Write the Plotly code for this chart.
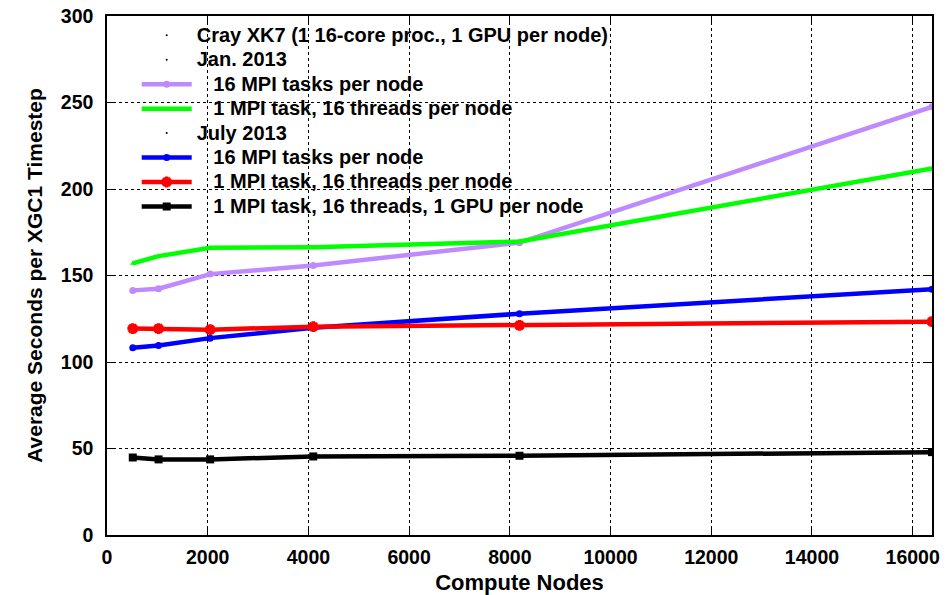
import plotly.graph_objects as go

nodes = [512, 1024, 2048, 4096, 8192, 16384]
jan_16mpi = [141.4, 142.4, 150.8, 155.8, 169.0, 247.5]
jan_1mpi_16thr = [157.0, 161.2, 166.0, 166.4, 169.6, 211.9]
jul_16mpi = [108.3, 109.6, 113.8, 119.8, 127.9, 142.1]
jul_1mpi_16thr = [119.3, 119.3, 118.7, 120.4, 121.2, 123.3]
jul_gpu = [44.8, 43.7, 43.7, 45.4, 45.8, 47.9]

x_ticks = [0, 2000, 4000, 6000, 8000, 10000, 12000, 14000, 16000]
x_ticktext = [str(v) for v in x_ticks]
y_ticks = [0, 50, 100, 150, 200, 250, 300]

FONT = "Liberation Sans, Arial, sans-serif"
NB = "\u00a0\u00a0\u00a0"

def lab(t):
    return '<span style="font-size:20px">' + t + '</span>'

fig = go.Figure()

def header(name):
    fig.add_trace(go.Scatter(x=[None], y=[None], mode="markers",
                             marker=dict(size=2, color="black"),
                             name=lab(name), hoverinfo="skip"))

def series(name, y, color, symbol, msize, lw=4.5, mline=None):
    marker = dict(symbol=symbol, size=msize, color=color)
    if mline:
        marker["line"] = dict(color=color, width=mline)
    fig.add_trace(go.Scatter(x=nodes, y=y, mode="lines+markers", name=lab(NB + name),
                             line=dict(color=color, width=lw), marker=marker))

header("Cray XK7 (1 16-core proc., 1 GPU per node)")
header("Jan. 2013")
series("16 MPI tasks per node", jan_16mpi, "#c08aff", "circle", 7)
series("1 MPI task, 16 threads per node", jan_1mpi_16thr, "#00ff00", "triangle-up", 5)
header("July 2013")
series("16 MPI tasks per node", jul_16mpi, "#0000ff", "circle", 7)
series("1 MPI task, 16 threads per node", jul_1mpi_16thr, "#ff0000", "asterisk", 9, mline=3.5)
series("1 MPI task, 16 threads, 1 GPU per node", jul_gpu, "#000000", "square", 8)

axis_common = dict(
    showline=True, linecolor="black", linewidth=1.5, mirror="allticks",
    ticks="inside", ticklen=8, tickcolor="black", tickwidth=1,
    showgrid=True, gridcolor="black", griddash="dot", gridwidth=1,
    zeroline=False, automargin=False,
    tickfont=dict(family=FONT, size=19.5, color="black", weight="bold"),
)

fig.update_layout(
    width=947, height=595,
    margin=dict(l=107, r=15, t=16, b=60, autoexpand=False),
    paper_bgcolor="white", plot_bgcolor="white",
    showlegend=True,
    legend=dict(x=0.036, y=0.996, xanchor="left", yanchor="top",
                bgcolor="rgba(0,0,0,0)", borderwidth=0,
                font=dict(family=FONT, size=16.5, color="black", weight="bold"),
                traceorder="normal", itemwidth=50, tracegroupgap=0),
    xaxis=dict(range=[0, 16384], tickvals=x_ticks, ticktext=x_ticktext,
               ticklabelstandoff=4,
               title=dict(text="Compute Nodes", standoff=7,
                          font=dict(family=FONT, size=22, color="black", weight="bold")),
               **axis_common),
    yaxis=dict(range=[0, 300], tickvals=y_ticks, ticklabelstandoff=8,
               title=dict(text="Average Seconds per XGC1 Timestep", standoff=12,
                          font=dict(family=FONT, size=21, color="black", weight="bold")),
               **axis_common),
)

fig.write_html("out.html")
